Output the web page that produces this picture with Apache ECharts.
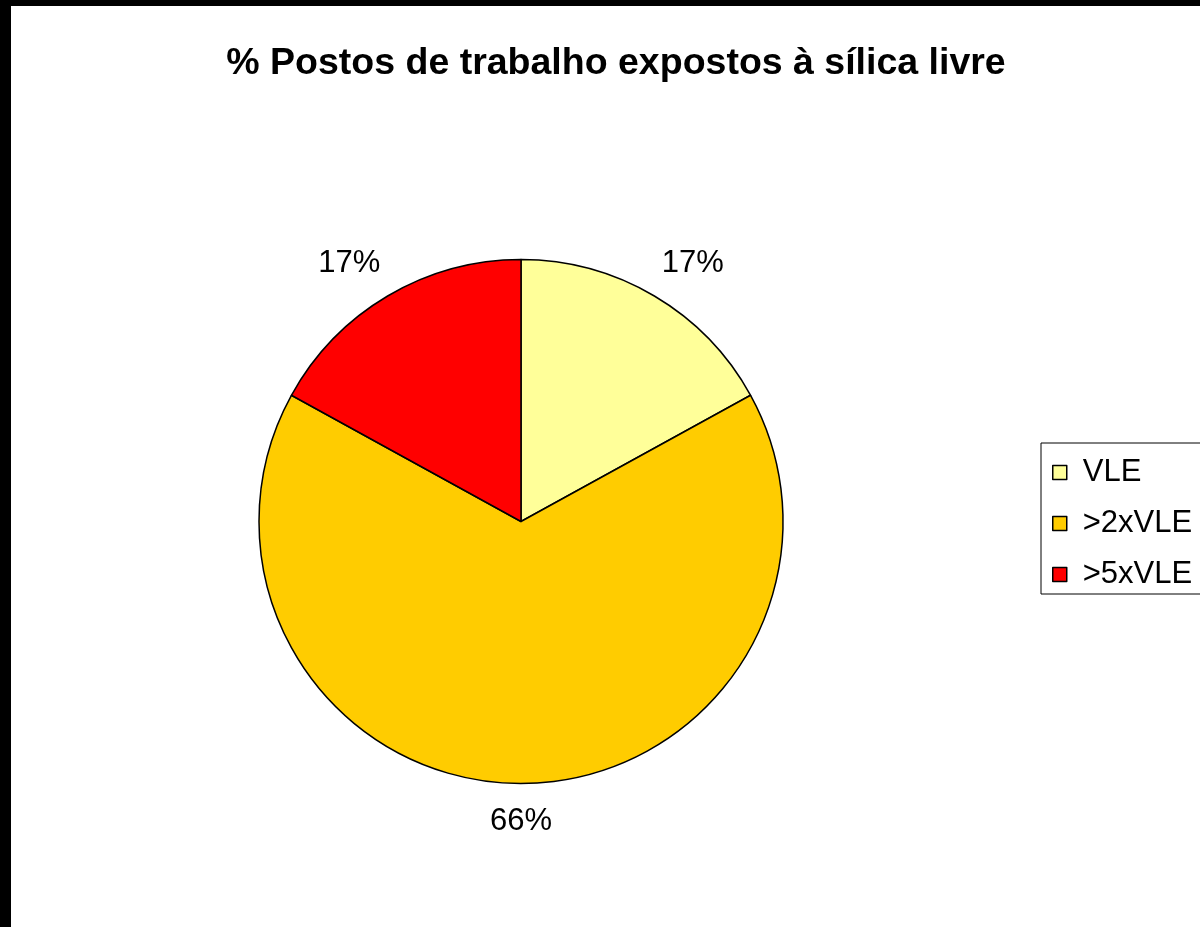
<!DOCTYPE html>
<html>
<head>
<meta charset="utf-8">
<script src="https://cdn.jsdelivr.net/npm/echarts@6/dist/echarts.min.js"></script>
<style>
  html, body { margin: 0; padding: 0; background: #000; width: 1200px; height: 927px; overflow: hidden; }
  #chart { position: absolute; left: 11px; top: 6px; width: 1189px; height: 921px; background: #fff; }
</style>
</head>
<body>
<div id="chart"></div>
<script>
const titleText = '% Postos de trabalho expostos à sílica livre';
const categories = ['VLE', '>2xVLE', '>5xVLE'];
const values = [17, 66, 17];
const colors = ['#FFFF99', '#FFCC00', '#FF0000'];

const chart = echarts.init(document.getElementById('chart'), null, { renderer: 'canvas' });
const font = 'Liberation Sans, Arial, sans-serif';

chart.setOption({
  backgroundColor: '#fff',
  animation: false,
  title: {
    text: titleText,
    left: 600,
    top: 34,
    textAlign: 'center',
    textStyle: { fontFamily: font, fontSize: 37.5, fontWeight: 'bold', color: '#000' }
  },
  legend: {
    orient: 'vertical',
    left: 1030,
    top: 437,
    data: categories,
    backgroundColor: '#fff',
    borderColor: '#000',
    borderWidth: 1,
    borderRadius: 0,
    padding: [14, 60, 4, 11],
    itemGap: 20,
    itemWidth: 14,
    itemHeight: 14,
    icon: 'rect',
    itemStyle: { borderColor: '#000', borderWidth: 1.5 },
    textStyle: { fontFamily: font, fontSize: 31, lineHeight: 31, color: '#000', padding: [0, 0, 0, 11] }
  },
  series: [{
    type: 'pie',
    center: [510, 515.5],
    radius: 262,
    startAngle: 90,
    clockwise: true,
    data: categories.map((c, i) => ({ name: c, value: values[i], itemStyle: { color: colors[i] } })),
    itemStyle: { borderColor: '#000', borderWidth: 1.5 },
    label: {
      show: true,
      position: 'outside',
      formatter: (p) => p.value + '%',
      fontFamily: font,
      fontSize: 31,
      color: '#000',
      distanceToLabelLine: -12
    },
    labelLine: { show: false, length: 38, length2: 0 },
    labelLayout: (p) => p.dataIndex === 1 ? { align: 'center', dx: 12 } : {},
    emphasis: { disabled: true }
  }]
});
</script>
</body>
</html>
